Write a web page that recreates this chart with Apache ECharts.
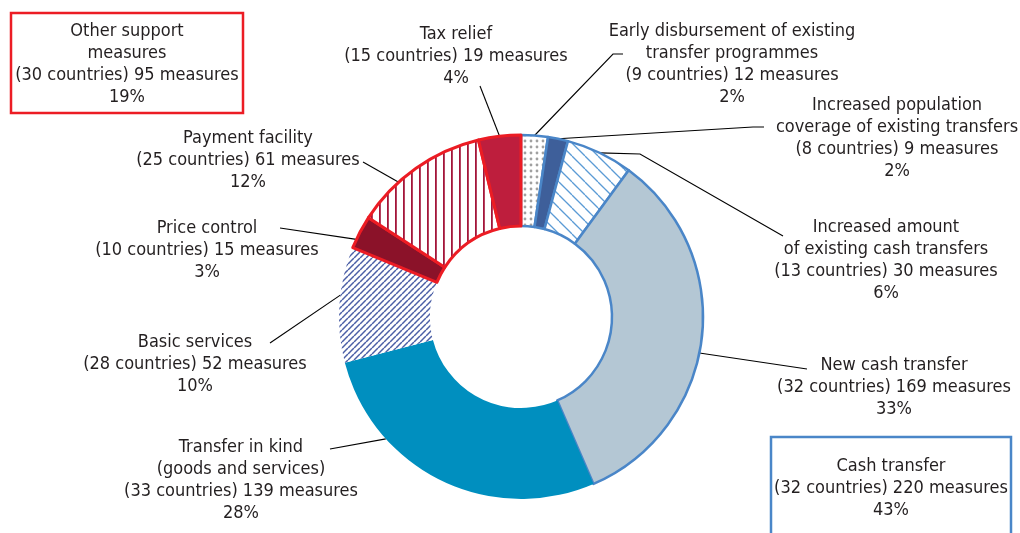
<!DOCTYPE html>
<html>
<head>
<meta charset="utf-8">
<script src="https://cdn.jsdelivr.net/npm/echarts@6/dist/echarts.min.js"></script>
<style>
  html, body { margin: 0; padding: 0; background: #fff; }
  #chart { width: 1020px; height: 533px; }
</style>
</head>
<body>
<div id="chart"></div>
<script>
// Social protection measures by type (number of measures per type)
const categories = [
  'Early disbursement of existing\ntransfer programmes',
  'Increased population\ncoverage of existing transfers',
  'Increased amount\nof existing cash transfers',
  'New cash transfer',
  'Transfer in kind\n(goods and services)',
  'Basic services',
  'Price control',
  'Payment facility',
  'Tax relief'
];
const countries = [9, 8, 13, 32, 33, 28, 10, 25, 15];
const measures = [12, 9, 30, 169, 139, 52, 15, 61, 19];
const shares = [2, 2, 6, 33, 28, 10, 3, 12, 4];

// Group totals shown in the framed boxes
const groupNames = ['Cash transfer', 'Other support\nmeasures'];
const groupCountries = [32, 30];
const groupMeasures = [220, 95];
const groupShares = [43, 19];

const FONT = '"Liberation Sans Narrow", "DejaVu Sans Condensed", "Roboto Condensed", "Arial Narrow", sans-serif';
const FONT_SIZE = 18;
const LINE_H = 22;
const TEXT = '#231f20';
const BLUE = '#4a86c8';
const RED = '#ec1c24';
const CX = 521, CY = 317;

// Small repeating tiles for the patterned slices
function makeTile(w, h, draw) {
  const c = document.createElement('canvas');
  c.width = w; c.height = h;
  const g = c.getContext('2d');
  g.fillStyle = '#ffffff';
  g.fillRect(0, 0, w, h);
  draw(g, w, h);
  return c;
}
const dotTile = makeTile(6, 6, g => {
  g.fillStyle = '#a0a0a0';
  g.beginPath(); g.arc(3, 3, 1.4, 0, Math.PI * 2); g.fill();
});
const backHatch = makeTile(13, 13, (g, w, h) => {
  g.strokeStyle = '#5b9bd5'; g.lineWidth = 1.3;
  for (const o of [-w, 0, w]) { g.beginPath(); g.moveTo(o, 0); g.lineTo(o + w, h); g.stroke(); }
});
const fwdHatch = makeTile(6, 6, (g, w, h) => {
  g.strokeStyle = '#4b5fa6'; g.lineWidth = 1.5;
  for (const o of [-w, 0, w]) { g.beginPath(); g.moveTo(o, h); g.lineTo(o + w, 0); g.stroke(); }
});
const vStripe = makeTile(8, 8, g => {
  g.fillStyle = '#a3163a';
  g.fillRect(3, 0, 1.8, 8);
});
const pat = img => ({ image: img, repeat: 'repeat' });

// Fill and outline for each slice
const sliceStyles = [
  { color: pat(dotTile), borderColor: BLUE, borderWidth: 2.5 },
  { color: '#3e5f9a', borderColor: BLUE, borderWidth: 2.5 },
  { color: pat(backHatch), borderColor: BLUE, borderWidth: 2.5 },
  { color: '#b4c7d4', borderColor: BLUE, borderWidth: 2.5 },
  { color: '#008fbf', borderWidth: 0 },
  { color: pat(fwdHatch), borderWidth: 0 },
  { color: '#8b1229', borderColor: RED, borderWidth: 3 },
  { color: pat(vStripe), borderColor: RED, borderWidth: 3 },
  { color: '#be1e3d', borderColor: RED, borderWidth: 3 }
];

// Label block centres, leader-line bends/ends and anchor shifts (degrees)
const labelPlaces = [
  { x: 732, y: 64,  pts: [[613, 54], [623, 54]], shift: 0 },
  { x: 897, y: 138, pts: [[753, 127], [764, 127]], shift: 0 },
  { x: 886, y: 260, pts: [[640, 154], [783, 236]], shift: 0 },
  { x: 894, y: 387, pts: [[807, 369], [807, 369]], shift: 5 },
  { x: 241, y: 480, pts: [[330, 449], [330, 449]], shift: 22 },
  { x: 195, y: 364, pts: [[270, 343], [270, 343]], shift: 3 },
  { x: 207, y: 250, pts: [[280, 228], [280, 228]], shift: -2.5 },
  { x: 248, y: 160, pts: [[363, 162], [363, 162]], shift: -7 },
  { x: 456, y: 56,  pts: [[480, 86], [480, 86]], shift: 0 }
];

function rotateAround(pt, deg) {
  const a = deg * Math.PI / 180;
  const dx = pt[0] - CX, dy = pt[1] - CY;
  return [CX + dx * Math.cos(a) - dy * Math.sin(a), CY + dx * Math.sin(a) + dy * Math.cos(a)];
}

const seriesData = categories.map((name, i) => ({
  name: name,
  value: measures[i],
  itemStyle: sliceStyles[i]
}));

function groupText(i) {
  return groupNames[i] + '\n(' + groupCountries[i] + ' countries) ' + groupMeasures[i] + ' measures\n' + groupShares[i] + '%';
}

const chart = echarts.init(document.getElementById('chart'), null, { renderer: 'canvas' });
chart.setOption({
  animation: false,
  backgroundColor: '#ffffff',
  textStyle: { fontFamily: FONT },
  series: [{
    type: 'pie',
    center: [CX, CY],
    radius: [91, 182],
    startAngle: 90,
    clockwise: true,
    avoidLabelOverlap: false,
    silent: true,
    minShowLabelAngle: 0,
    data: seriesData,
    label: {
      show: true,
      position: 'outside',
      fontFamily: FONT,
      fontSize: FONT_SIZE,
      lineHeight: LINE_H,
      color: TEXT,
      align: 'center',
      formatter: p => {
        const i = p.dataIndex;
        return categories[i] + '\n(' + countries[i] + ' countries) ' + measures[i] + ' measures\n' + shares[i] + '%';
      }
    },
    labelLine: {
      show: true,
      smooth: false,
      length: 10,
      length2: 10,
      lineStyle: { color: '#000000', width: 1.1 }
    },
    labelLayout: p => {
      const L = labelPlaces[p.dataIndex];
      const start = rotateAround(p.labelLinePoints[0], L.shift);
      return {
        x: L.x,
        y: L.y,
        align: 'center',
        verticalAlign: 'middle',
        labelLinePoints: [start, L.pts[0], L.pts[1]]
      };
    }
  }],
  graphic: [
    {
      type: 'rect', silent: true,
      shape: { x: 11, y: 13, width: 232, height: 100 },
      style: { fill: 'none', stroke: RED, lineWidth: 2.5 }
    },
    {
      type: 'text', silent: true, x: 127, y: 64,
      style: {
        text: groupText(1), fill: TEXT, font: FONT_SIZE + 'px ' + FONT, lineHeight: LINE_H,
        align: 'center', verticalAlign: 'middle'
      }
    },
    {
      type: 'rect', silent: true,
      shape: { x: 771, y: 437, width: 240, height: 110 },
      style: { fill: 'none', stroke: BLUE, lineWidth: 2.5 }
    },
    {
      type: 'text', silent: true, x: 891, y: 488,
      style: {
        text: groupText(0), fill: TEXT, font: FONT_SIZE + 'px ' + FONT, lineHeight: LINE_H,
        align: 'center', verticalAlign: 'middle'
      }
    }
  ]
});
</script>
</body>
</html>
